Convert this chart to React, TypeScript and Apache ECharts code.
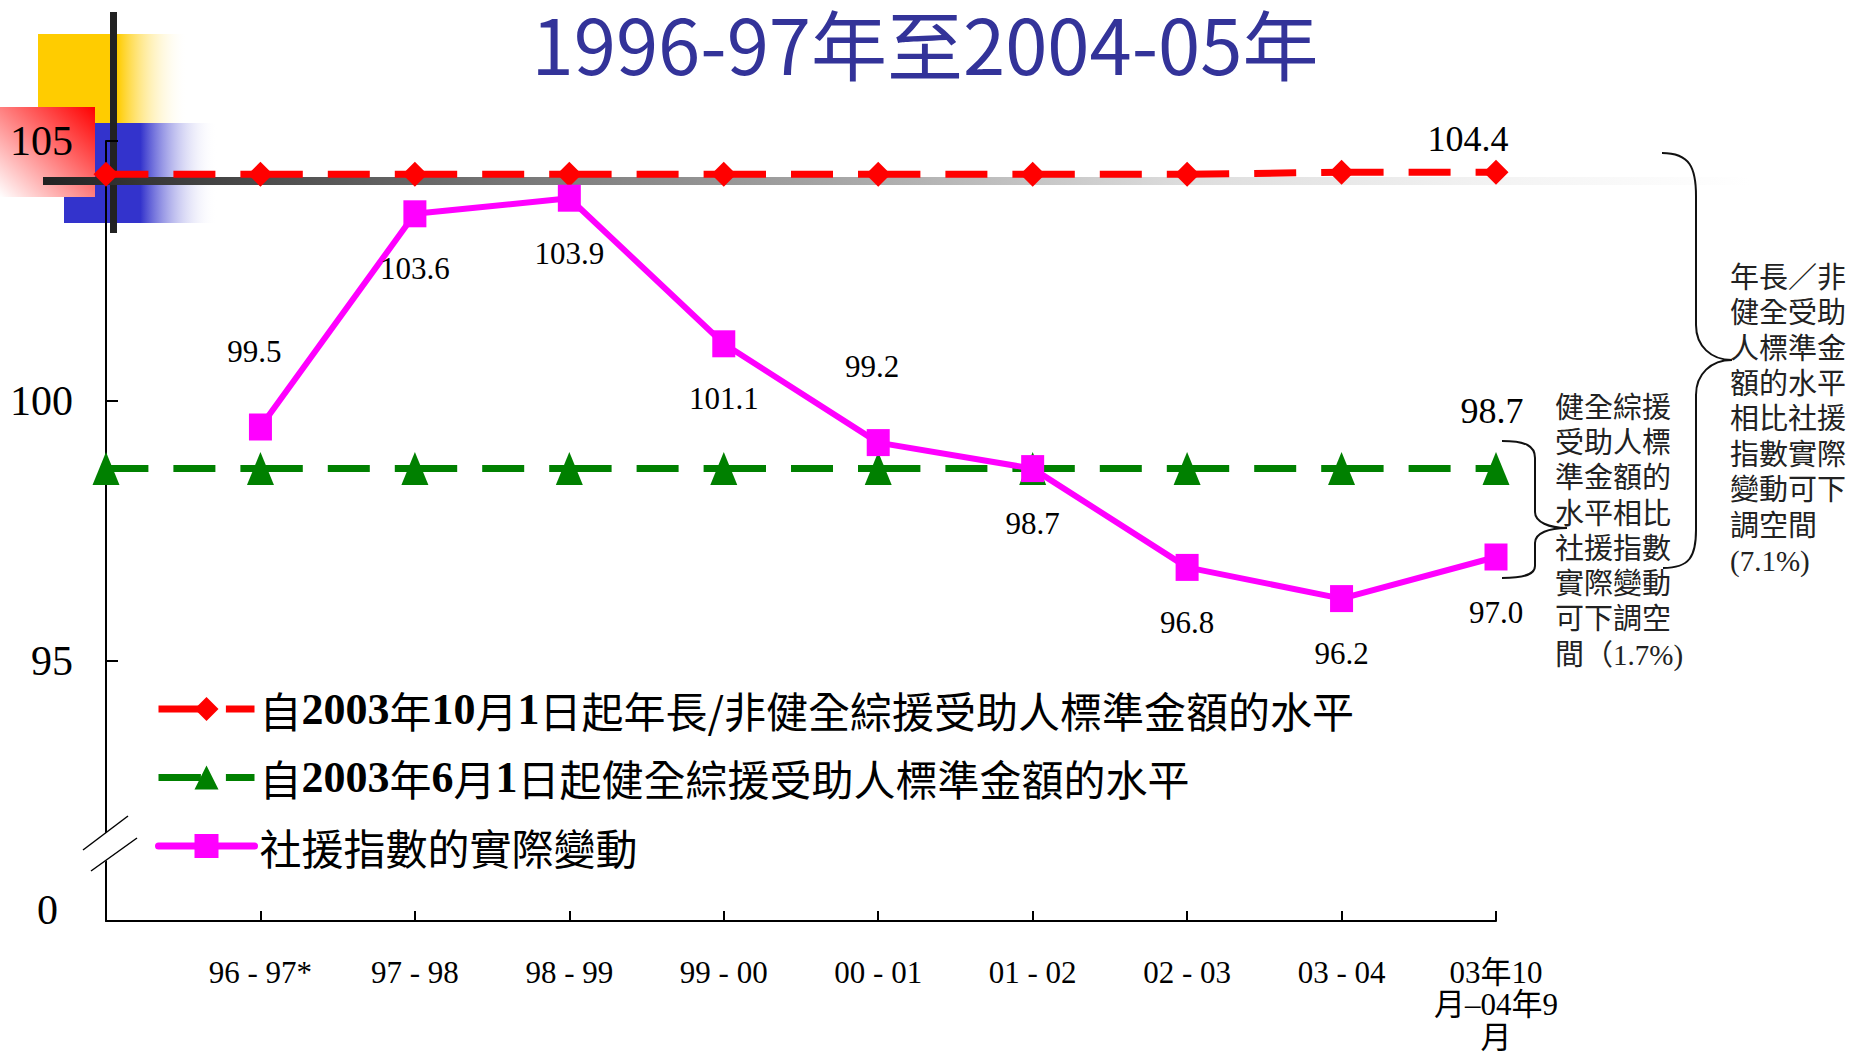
import React, { useEffect, useRef } from 'react';
import * as echarts from 'echarts';

// ---------- data ----------
const TITLE = '1996-97年至2004-05年';
const categories = ['', '96 - 97*', '97 - 98', '98 - 99', '99 - 00', '00 - 01', '01 - 02', '02 - 03', '03 - 04', '03年10\n月–04年9\n月'];
const seriesNames = [
  '自2003年10月1日起年長/非健全綜援受助人標準金額的水平',
  '自2003年6月1日起健全綜援受助人標準金額的水平',
  '社援指數的實際變動',
];
const elderlyLevel = [104.36, 104.36, 104.36, 104.36, 104.36, 104.36, 104.36, 104.36, 104.4, 104.4];
const ableBodiedLevel = [98.7, 98.7, 98.7, 98.7, 98.7, 98.7, 98.7, 98.7, 98.7, 98.7];
const ssaiChange: (number | null)[] = [null, 99.5, 103.6, 103.9, 101.1, 99.2, 98.7, 96.8, 96.2, 97.0];
// broken value axis: the bottom value (90) is displayed as "0"
const Y_MIN = 90;
const Y_MAX = 105;
const Y_STEP = 5;
const noteElderly = '年長／非\n健全受助\n人標準金\n額的水平\n相比社援\n指數實際\n變動可下\n調空間\n(7.1%)';
const noteAble = '健全綜援\n受助人標\n準金額的\n水平相比\n社援指數\n實際變動\n可下調空\n間（1.7%)';

// ---------- decoration shapes ----------
const BRACE_BIG = 'M1662,153 C1690,153 1696,168 1696,196 L1696,325 C1696,346 1711,360 1732,360 C1711,360 1696,374 1696,395 L1696,530 C1696,556 1690,568 1663,568';
const BRACE_SMALL = 'M1502,441 C1526,441 1535,446 1535,458 L1535,512 C1535,522 1549,528 1567,528 C1549,528 1535,533 1535,543 L1535,566 C1535,574 1526,578 1502,578';
echarts.graphic.registerShape('braceBig', echarts.graphic.extendPath(BRACE_BIG, {}));
echarts.graphic.registerShape('braceSmall', echarts.graphic.extendPath(BRACE_SMALL, {}));

const SERIF = "'Liberation Serif', 'Noto Sans CJK TC'";
const CJK = "'Noto Sans CJK TC', 'Noto Sans CJK SC'";
const DASH = [62.4, 25, 42, 25];

const lin = (x: number, y: number, x2: number, y2: number, stops: [number, string][]) => ({
  type: 'linear', x, y, x2, y2,
  colorStops: stops.map(([offset, color]) => ({ offset, color })),
});

function buildOption() {
  const last = categories.length - 1;
  const fmt = (p: any) => Number(p.value).toFixed(1);
  const pinkAbove = new Set([1, 5]);
  return {
    animation: false,
    backgroundColor: '#ffffff',
    grid: { left: 106, right: 354, top: 141, bottom: 135, containLabel: false, outerBoundsMode: 'none' },
    legend: {
      orient: 'vertical',
      left: 155,
      top: 686,
      padding: 0,
      itemWidth: 96,
      itemHeight: 30,
      itemGap: 22.5,
      data: seriesNames,
      lineStyle: { width: 7 },
      formatter: (n: string) => n.replace(/(\d+)/g, '{b|$1}'),
      textStyle: {
        fontFamily: CJK, fontSize: 42, color: '#000', lineHeight: 46,
        rich: { b: { fontFamily: 'Liberation Serif', fontWeight: 'bold', fontSize: 44, lineHeight: 46, color: '#000' } },
      },
    },
    xAxis: {
      type: 'category',
      data: categories,
      boundaryGap: false,
      axisLine: { show: true, onZero: false, lineStyle: { color: '#000', width: 2 } },
      axisTick: { show: true, inside: true, length: 10, interval: 0, lineStyle: { color: '#000', width: 2 } },
      axisLabel: { interval: 0, margin: 35, fontFamily: SERIF, fontSize: 31, lineHeight: 32.5, color: '#000' },
      splitLine: { show: false },
    },
    yAxis: {
      type: 'value',
      min: Y_MIN,
      max: Y_MAX,
      interval: Y_STEP,
      axisLine: { show: true, lineStyle: { color: '#000', width: 2 } },
      axisTick: { show: true, inside: true, length: 12, lineStyle: { color: '#000', width: 2 } },
      axisLabel: {
        margin: 33, fontFamily: 'Liberation Serif', fontSize: 42, color: '#000',
        formatter: (v: number) => (v === Y_MIN ? '{z|0}' : String(v)),
        rich: { z: { fontFamily: 'Liberation Serif', fontSize: 42, color: '#000', padding: [0, 15, 22, 0] } },
      },
      splitLine: { show: false },
    },
    series: [
      {
        name: seriesNames[0],
        type: 'line',
        z: 3,
        data: elderlyLevel.map((v, i) =>
          i === last ? { value: v, label: { show: true, offset: [-28, -33], fontSize: 36 } } : v),
        symbol: 'diamond',
        symbolSize: [25, 25],
        itemStyle: { color: '#FF0000' },
        lineStyle: { color: '#FF0000', width: 7, type: DASH, dashOffset: 20.4 },
        label: { show: false, position: 'inside', fontFamily: 'Liberation Serif', color: '#000', formatter: fmt },
      },
      {
        name: seriesNames[1],
        type: 'line',
        z: 3,
        data: ableBodiedLevel.map((v, i) =>
          i === last ? { value: v, label: { show: true, offset: [-4, -58], fontSize: 36 } } : v),
        symbol: 'triangle',
        symbolSize: [27, 33],
        itemStyle: { color: '#008000' },
        lineStyle: { color: '#008000', width: 7, type: DASH, dashOffset: 20.4 },
        label: { show: false, position: 'inside', fontFamily: 'Liberation Serif', color: '#000', formatter: fmt },
      },
      {
        name: seriesNames[2],
        type: 'line',
        z: 4,
        data: ssaiChange.map((v, i) =>
          v == null ? '-' : { value: v, label: { offset: pinkAbove.has(i) ? [-6, -76] : [0, 55] } }),
        symbol: 'rect',
        symbolSize: [23, 27],
        itemStyle: { color: '#FF00FF' },
        lineStyle: { color: '#FF00FF', width: 6, cap: 'round', join: 'round' },
        label: { show: true, position: 'inside', fontFamily: 'Liberation Serif', fontSize: 31, color: '#000', formatter: fmt },
      },
    ],
    graphic: [
      // title
      {
        type: 'text', z: 10, silent: true, x: 925, y: 42,
        style: {
          text: TITLE, fontFamily: CJK, fontSize: 76, fontWeight: 'normal', fill: '#333399',
          align: 'center', verticalAlign: 'middle',
        },
      },
      // template decoration: yellow square
      {
        type: 'rect', z: -10, silent: true,
        shape: { x: 38, y: 34, width: 150, height: 89 },
        style: { fill: lin(0, 0, 1, 0, [[0, '#FFCC00'], [0.53, '#FFCC00'], [1, 'rgba(255,255,255,0)']]) },
      },
      // blue square
      {
        type: 'rect', z: -10, silent: true,
        shape: { x: 64, y: 123, width: 153, height: 100 },
        style: { fill: lin(0, 0, 1, 0, [[0, '#3333CC'], [0.5, '#3333CC'], [1, 'rgba(255,255,255,0)']]) },
      },
      // red square
      {
        type: 'rect', z: -9, silent: true,
        shape: { x: 0, y: 107, width: 95, height: 90 },
        style: { fill: lin(1, 0, 0, 1, [[0, '#FF0000'], [1, '#FFFFFF']]) },
      },
      // black vertical bar
      {
        type: 'rect', z: -8, silent: true,
        shape: { x: 110, y: 12, width: 7, height: 221 },
        style: { fill: '#222222' },
      },
      // fading horizontal bar
      {
        type: 'rect', z: -8, silent: true,
        shape: { x: 43, y: 177, width: 1707, height: 8 },
        style: {
          fill: lin(0, 0, 1, 0, [[0, '#222222'], [0.1, '#444444'], [0.275, '#777777'], [0.48, '#aaaaaa'], [0.67, '#dddddd'], [0.85, '#f3f3f3'], [1, '#ffffff']]),
        },
      },
      // axis break
      {
        type: 'polygon', z: 10, silent: true,
        shape: { points: [[99, 838], [113, 827], [113, 856], [99, 866]] },
        style: { fill: '#ffffff' },
      },
      { type: 'line', z: 11, silent: true, shape: { x1: 83, y1: 850, x2: 128, y2: 816 }, style: { stroke: '#000', lineWidth: 1.5 } },
      { type: 'line', z: 11, silent: true, shape: { x1: 91, y1: 871, x2: 137, y2: 838 }, style: { stroke: '#000', lineWidth: 1.5 } },
      // braces
      { type: 'braceBig', z: 10, silent: true, x: 0, y: 0, style: { fill: 'none', stroke: '#111', lineWidth: 2 } },
      { type: 'braceSmall', z: 10, silent: true, x: 0, y: 0, style: { fill: 'none', stroke: '#111', lineWidth: 2 } },
      // notes
      {
        type: 'text', z: 10, silent: true, x: 1730, y: 260,
        style: { text: noteElderly, fontFamily: SERIF, fontSize: 29, lineHeight: 35.4, fill: '#222', verticalAlign: 'top', align: 'left' },
      },
      {
        type: 'text', z: 10, silent: true, x: 1555, y: 390,
        style: { text: noteAble, fontFamily: SERIF, fontSize: 29, lineHeight: 35.3, fill: '#222', verticalAlign: 'top', align: 'left' },
      },
    ],
  };
}

export default function App() {
  const ref = useRef<HTMLDivElement>(null);
  useEffect(() => {
    if (!ref.current) return;
    const chart = echarts.init(ref.current, null, { renderer: 'svg', width: 1850, height: 1056 });
    chart.setOption(buildOption() as any);
    return () => chart.dispose();
  }, []);
  return (
    <div
      ref={ref}
      style={{ position: 'absolute', left: 0, top: 0, width: 1850, height: 1056, background: '#ffffff' }}
    />
  );
}
